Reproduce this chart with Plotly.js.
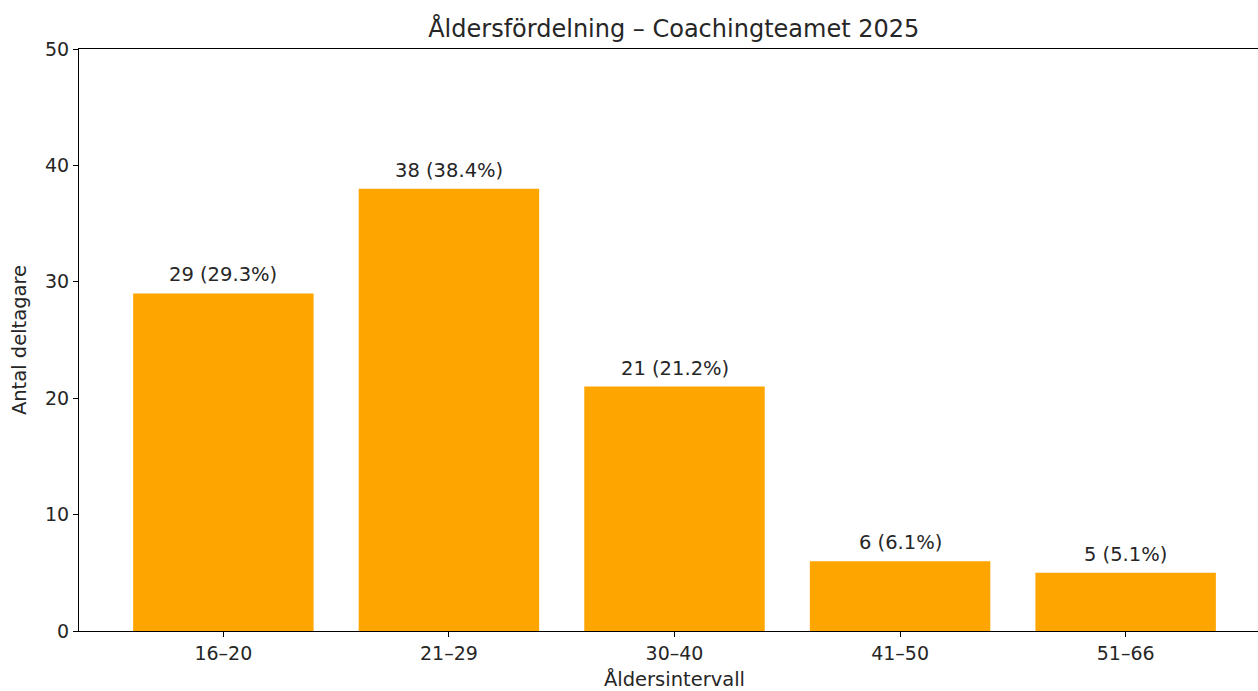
<!DOCTYPE html>
<html>
<head>
<meta charset="utf-8">
<script src="https://cdn.plot.ly/plotly-3.0.1.min.js"></script>
<style>
html,body{margin:0;padding:0;background:#fff;overflow:hidden;}
#chart{width:1270px;height:691px;}
</style>
</head>
<body>
<div id="chart"></div>
<script>
const categories = ["16–20", "21–29", "30–40", "41–50", "51–66"];
const counts = [29, 38, 21, 6, 5];
const yTicks = [0, 10, 20, 30, 40, 50];

const total = counts.reduce((a, b) => a + b, 0);
const labels = counts.map(c => c + " (" + (c / total * 100).toFixed(1) + "%)");
const xIdx = categories.map((_, i) => i);

const font = {family: "DejaVu Sans, sans-serif", color: "#262626"};
const fs = 19.5;

const trace = {
  type: "bar",
  x: xIdx,
  y: counts,
  width: 0.8,
  marker: {color: "#FFA500", line: {width: 0}},
  hoverinfo: "skip"
};

const annotations = xIdx.map((x, i) => ({
  x: x, y: counts[i], xref: "x", yref: "y",
  text: labels[i], showarrow: false,
  yanchor: "bottom", yshift: 5,
  font: Object.assign({size: fs}, font)
}));

const layout = {
  width: 1270, height: 691,
  margin: {l: 79, r: 0, t: 49, b: 60},
  paper_bgcolor: "#fff", plot_bgcolor: "#fff",
  showlegend: false,
  font: Object.assign({size: fs}, font),
  title: {text: "Åldersfördelning – Coachingteamet 2025", x: 0.5305, xanchor: "center", y: 0.958, yanchor: "middle",
          font: Object.assign({size: 24}, font)},
  xaxis: {
    range: [-0.64, 4.64], tickmode: "array", tickvals: xIdx, ticktext: categories,
    showgrid: false, zeroline: false, showline: true, linecolor: "#000", linewidth: 1, mirror: true,
    ticks: "outside", ticklen: 5, tickcolor: "#000", tickfont: Object.assign({size: 19}, font),
    title: {text: "Åldersintervall", standoff: 9, font: Object.assign({size: fs}, font)}
  },
  yaxis: {
    range: [0, 50], tickmode: "array", tickvals: yTicks, ticktext: yTicks.map(String),
    showgrid: false, zeroline: false, showline: true, linecolor: "#000", linewidth: 1, mirror: true,
    ticks: "outside", ticklen: 5, tickcolor: "#000", tickfont: Object.assign({size: 19}, font),
    title: {text: "Antal deltagare", standoff: 13, font: Object.assign({size: fs}, font)}
  },
  annotations: annotations
};

Plotly.newPlot("chart", [trace], layout, {displayModeBar: false, staticPlot: true});
</script>
</body>
</html>
